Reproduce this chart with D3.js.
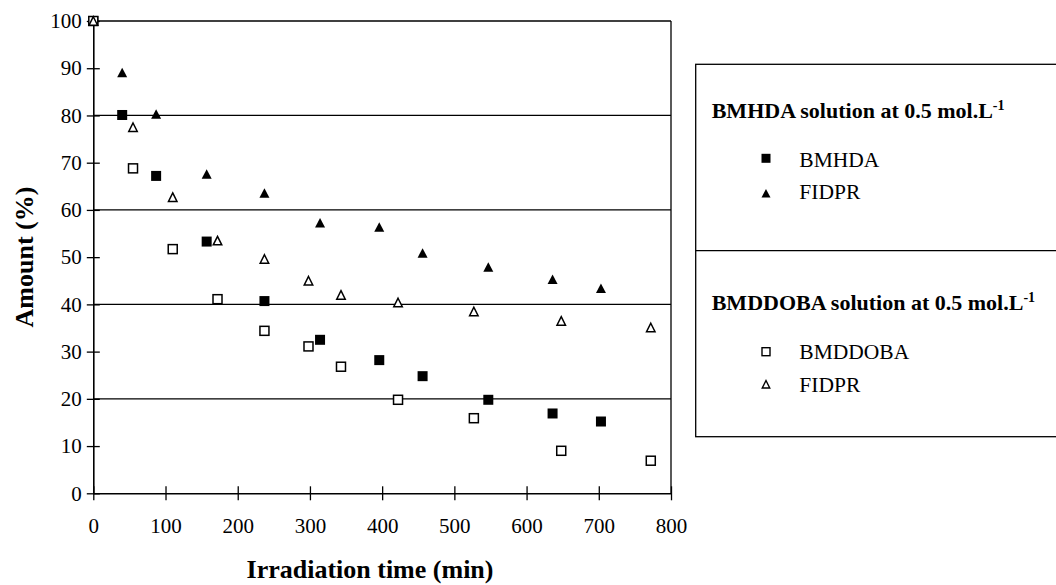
<!DOCTYPE html>
<html>
<head>
<meta charset="UTF-8">
<style>
  body { margin: 0; padding: 0; background: #fff; }
  svg { display: block; }
  svg text { font-family: "Liberation Serif", "Times New Roman", Times, serif; }
</style>
</head>
<body>
<svg id="chart" width="1056" height="585"></svg>
<script src="https://d3js.org/d3.v7.min.js"></script>
<script>
// data
const bmhdaTime   = [0, 40, 87, 157, 237, 314, 396, 456, 547, 636, 703];
const bmhdaAmount = [100, 80.1, 67.2, 53.3, 40.7, 32.5, 28.2, 24.8, 19.8, 16.9, 15.2];
const fidprAAmount = [100, 89.1, 80.3, 67.6, 63.6, 57.3, 56.4, 50.9, 47.9, 45.3, 43.4];

const bmddobaTime   = [0, 55, 110, 172, 237, 298, 343, 422, 527, 648, 772];
const bmddobaAmount = [100, 68.8, 51.7, 41.1, 34.4, 31.1, 26.8, 19.8, 15.9, 9.0, 6.9];
const fidprBAmount  = [100, 77.5, 62.7, 53.5, 49.6, 45.0, 42.0, 40.4, 38.5, 36.5, 35.1];

const xTicks = [0, 100, 200, 300, 400, 500, 600, 700, 800];
const yTicks = [0, 10, 20, 30, 40, 50, 60, 70, 80, 90, 100];
const gridValues = [20, 40, 60, 80, 100];

const serif = "'Liberation Serif', 'Times New Roman', Times, serif";
const svg = d3.select("#chart");

let x = d3.scaleLinear().domain([0, 800]).range([93.3, 671]);
let y = d3.scaleLinear().domain([0, 100]).range([493.3, 21]);

// gridlines
svg.append("g").selectAll("line")
    .data(gridValues)
    .enter().append("line")
    .attr("x1", x(0)).attr("x2", x(800))
    .attr("y1", d => y(d)).attr("y2", d => y(d))
    .attr("stroke", "#000").attr("stroke-width", 1.3);

// right border of plot area
svg.append("line")
    .attr("x1", x(800)).attr("x2", x(800))
    .attr("y1", y(100)).attr("y2", y(0))
    .attr("stroke", "#000").attr("stroke-width", 1.3);

// axes, ticks crossing the axis line
let xAxis = svg.append("g")
    .attr("transform", `translate(0,${y(0)})`)
    .call(d3.axisBottom(x).tickValues(xTicks).tickSize(7).tickSizeOuter(0));
xAxis.selectAll(".tick line").attr("y1", -7).attr("y2", 7);

let yAxis = svg.append("g")
    .attr("transform", `translate(${x(0)},0)`)
    .call(d3.axisLeft(y).tickValues(yTicks).tickSize(6.5).tickSizeOuter(0));
yAxis.selectAll(".tick line").attr("x1", -6.5).attr("x2", 6.5);

[xAxis, yAxis].forEach(a => {
    a.attr("font-family", serif).attr("font-size", 21);
    a.select(".domain").attr("stroke", "#000").attr("stroke-width", 1.6);
    a.selectAll(".tick line").attr("stroke", "#000").attr("stroke-width", 1.3);
    a.selectAll(".tick text")
        .attr("fill", "#000")
        .attr("font-family", serif)
        .style("font-family", serif)
        .style("font-size", "21px");
});
xAxis.selectAll(".tick text").attr("dy", null).attr("y", 40);
yAxis.selectAll(".tick text").attr("x", -11.5);

// axis titles
svg.append("text")
    .attr("x", 370).attr("y", 578)
    .attr("text-anchor", "middle")
    .attr("font-family", serif)
    .style("font-size", "26px").style("font-weight", "bold")
    .text("Irradiation time (min)");

svg.append("text")
    .attr("transform", "translate(33,257) rotate(-90)")
    .attr("text-anchor", "middle")
    .attr("font-family", serif)
    .style("font-size", "26px").style("font-weight", "bold")
    .text("Amount (%)");

// marker shapes
function triPath(w, h) {
    return `M0,${-h / 2}L${w / 2},${h / 2}L${-w / 2},${h / 2}Z`;
}

function drawMarkers(g, xs, ys, kind) {
    let sel = g.selectAll(null)
        .data(xs.map((t, i) => [t, ys[i]]))
        .enter();
    if (kind === "fsq") {
        sel.append("rect")
            .attr("x", d => x(d[0]) - 5).attr("y", d => y(d[1]) - 5)
            .attr("width", 10).attr("height", 10)
            .attr("fill", "#000");
    } else if (kind === "osq") {
        sel.append("rect")
            .attr("x", d => x(d[0]) - 4.5).attr("y", d => y(d[1]) - 4.5)
            .attr("width", 9).attr("height", 9)
            .attr("fill", "#fff").attr("stroke", "#000").attr("stroke-width", 1.5);
    } else if (kind === "ftri") {
        sel.append("path")
            .attr("transform", d => `translate(${x(d[0])},${y(d[1])})`)
            .attr("d", triPath(10, 9.5))
            .attr("fill", "#000");
    } else {
        sel.append("path")
            .attr("transform", d => `translate(${x(d[0])},${y(d[1])})`)
            .attr("d", triPath(8.5, 8.5))
            .attr("fill", "#fff").attr("stroke", "#000").attr("stroke-width", 1.5);
    }
}

let marks = svg.append("g");
drawMarkers(marks, bmhdaTime, bmhdaAmount, "fsq");
drawMarkers(marks, bmhdaTime, fidprAAmount, "ftri");
drawMarkers(marks, bmddobaTime, bmddobaAmount, "osq");
drawMarkers(marks, bmddobaTime, fidprBAmount, "otri");

// legend box (runs off the right edge)
let leg = svg.append("g").attr("font-family", serif);
leg.append("rect")
    .attr("x", 695.7).attr("y", 64.3)
    .attr("width", 400).attr("height", 372.4)
    .attr("fill", "none").attr("stroke", "#000").attr("stroke-width", 1.3);
leg.append("line")
    .attr("x1", 695.7).attr("x2", 1100)
    .attr("y1", 250.7).attr("y2", 250.7)
    .attr("stroke", "#000").attr("stroke-width", 1.3);

function heading(text, yPos) {
    let t = leg.append("text")
        .attr("x", 711.7).attr("y", yPos)
        .attr("font-family", serif)
        .style("font-size", "22px").style("font-weight", "bold");
    t.append("tspan").text(text);
    t.append("tspan").attr("dy", -8).style("font-size", "14px").text("-1");
}
heading("BMHDA solution at 0.5 mol.L", 118.3);
heading("BMDDOBA solution at 0.5 mol.L", 310);

const legendItems = [
    { label: "BMHDA", kind: "fsq", cy: 158.3, base: 166.7 },
    { label: "FIDPR", kind: "ftri", cy: 193.3, base: 199 },
    { label: "BMDDOBA", kind: "osq", cy: 351.7, base: 359 },
    { label: "FIDPR", kind: "otri", cy: 384.3, base: 391.7 }
];

legendItems.forEach(it => {
    let cx = 766;
    if (it.kind === "fsq") {
        leg.append("rect").attr("x", cx - 4.5).attr("y", it.cy - 4.5)
            .attr("width", 9).attr("height", 9).attr("fill", "#000");
    } else if (it.kind === "osq") {
        leg.append("rect").attr("x", cx - 4).attr("y", it.cy - 4)
            .attr("width", 8).attr("height", 8)
            .attr("fill", "#fff").attr("stroke", "#000").attr("stroke-width", 1.4);
    } else if (it.kind === "ftri") {
        leg.append("path").attr("transform", `translate(${cx},${it.cy})`)
            .attr("d", triPath(9, 8.5)).attr("fill", "#000");
    } else {
        leg.append("path").attr("transform", `translate(${cx},${it.cy})`)
            .attr("d", triPath(7.5, 7.5))
            .attr("fill", "#fff").attr("stroke", "#000").attr("stroke-width", 1.4);
    }
    leg.append("text")
        .attr("x", 799.3).attr("y", it.base)
        .attr("font-family", serif)
        .style("font-size", "21.5px")
        .text(it.label);
});
</script>
</body>
</html>
